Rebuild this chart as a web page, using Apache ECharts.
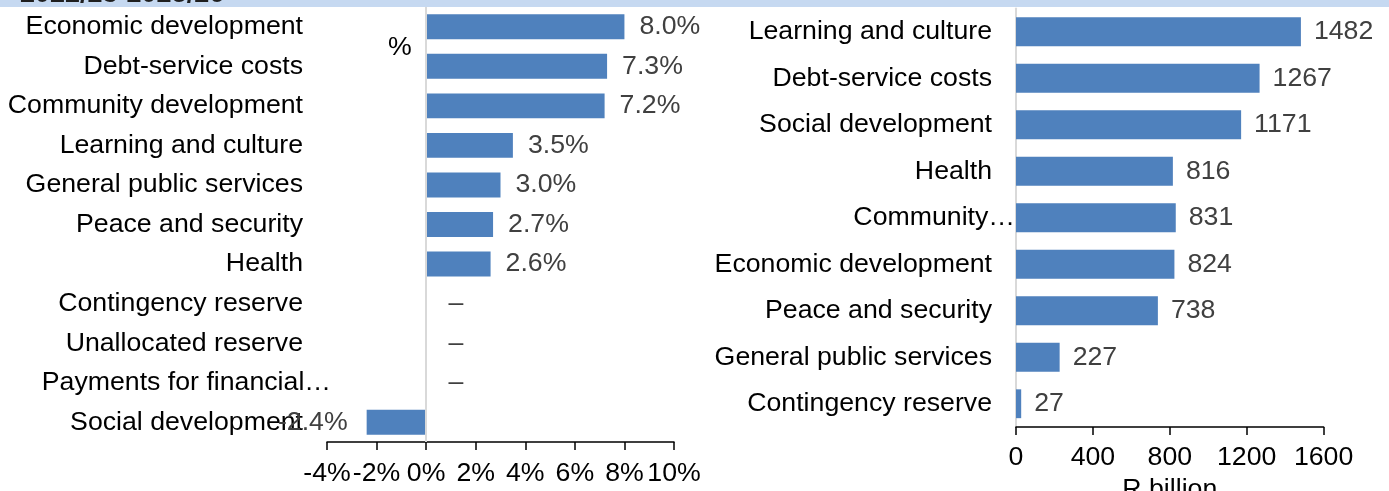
<!DOCTYPE html>
<html>
<head>
<meta charset="utf-8">
<script src="https://cdn.jsdelivr.net/npm/echarts@6/dist/echarts.min.js"></script>
<style>
  html, body { margin: 0; padding: 0; background: #fff; }
  #chart { width: 1389px; height: 491px; }
</style>
</head>
<body>
<div id="chart"></div>
<script>
// Average annual growth by function, 2022/23-2025/26 (%)
const growthCategories = [
  'Economic development', 'Debt-service costs', 'Community development',
  'Learning and culture', 'General public services', 'Peace and security',
  'Health', 'Contingency reserve', 'Unallocated reserve',
  'Payments for financial…', 'Social development'
];
const growthValues = [8.0, 7.3, 7.2, 3.5, 3.0, 2.7, 2.6, 0, 0, 0, -2.4];
const growthTicks = [-4, -2, 0, 2, 4, 6, 8, 10];

// Spending by function (R billion)
const spendCategories = [
  'Learning and culture', 'Debt-service costs', 'Social development',
  'Health', 'Community…', 'Economic development', 'Peace and security',
  'General public services', 'Contingency reserve'
];
const spendValues = [1482, 1267, 1171, 816, 831, 824, 738, 227, 27];
const spendTicks = [0, 400, 800, 1200, 1600];

const FONT = "'Liberation Sans', Arial, sans-serif";
const FS = 26.7;
const BAR = '#4f81bd';

// Labels that Excel truncated run a little past the label column
function catLabel(shift) {
  return {
    fontFamily: FONT, fontSize: FS, color: '#000', margin: 24,
    formatter: v => v.endsWith('…') ? '{o|' + v + '}' : v,
    rich: { o: { fontFamily: FONT, fontSize: FS, color: '#000', padding: [0, -shift, 0, 0] } }
  };
}

// Negative growth is labelled on the outer (left) end of its bar
const growthData = growthValues.map(v => ({
  value: v,
  label: v < 0 ? { position: 'left', distance: 19 } : { position: 'right' }
}));

const chart = echarts.init(document.getElementById('chart'), null, { renderer: 'canvas' });
chart.setOption({
  animation: false,
  backgroundColor: '#fff',
  graphic: [
    { type: 'rect', left: 0, top: 0, shape: { width: 1389, height: 7 }, style: { fill: '#c6d9f1' }, z: 10 },
    { type: 'text', x: 20, y: 8, z: 11,
      style: { text: '2022/23-2025/26', fontFamily: FONT, fontSize: 27, fontWeight: 'bold',
               fill: '#1f1f1f', verticalAlign: 'bottom', align: 'left' } },
    { type: 'text', x: 388, y: 48,
      style: { text: '%', fontFamily: FONT, fontSize: FS, fill: '#000', verticalAlign: 'middle' } }
  ],
  grid: [
    { left: 327, top: 7, width: 347, height: 435, outerBoundsMode: 'none' },
    { left: 1016, top: 8.5, width: 307.6, height: 418.5, outerBoundsMode: 'none' }
  ],
  xAxis: [
    {
      gridIndex: 0, type: 'value',
      min: growthTicks[0], max: growthTicks[growthTicks.length - 1], interval: 2,
      splitLine: { show: false },
      axisLine: { show: true, onZero: false, lineStyle: { color: '#000', width: 1.5 } },
      axisTick: { show: true, length: 8, lineStyle: { color: '#000', width: 1.5 } },
      axisLabel: { fontFamily: FONT, fontSize: FS, color: '#000', margin: 18, formatter: '{value}%' }
    },
    {
      gridIndex: 1, type: 'value',
      min: spendTicks[0], max: spendTicks[spendTicks.length - 1], interval: 400,
      splitLine: { show: false },
      axisLine: { show: true, lineStyle: { color: '#000', width: 1.5 } },
      axisTick: { show: true, length: 8, lineStyle: { color: '#000', width: 1.5 } },
      axisLabel: { fontFamily: FONT, fontSize: FS, color: '#000', margin: 17, formatter: v => String(v) },
      name: 'R billion', nameLocation: 'middle', nameGap: 42,
      nameTextStyle: { fontFamily: FONT, fontSize: FS, color: '#000' }
    }
  ],
  yAxis: [
    {
      gridIndex: 0, type: 'category', inverse: true, data: growthCategories,
      axisLine: { show: false }, axisTick: { show: false },
      axisLabel: catLabel(28)
    },
    {
      gridIndex: 1, type: 'category', inverse: true, data: spendCategories,
      axisLine: { show: true, lineStyle: { color: '#d9d9d9', width: 2 } },
      axisTick: { show: false },
      axisLabel: catLabel(23)
    }
  ],
  series: [
    {
      type: 'bar', xAxisIndex: 0, yAxisIndex: 0, data: growthData,
      barCategoryGap: '37%',
      itemStyle: { color: BAR },
      label: {
        show: true, distance: 15, fontFamily: FONT, fontSize: FS, color: '#404040',
        formatter: p => p.value === 0 ? ' –' : p.value.toFixed(1) + '%'
      },
      markLine: {
        silent: true, symbol: 'none', label: { show: false },
        lineStyle: { color: '#d9d9d9', type: 'solid', width: 2 },
        data: [{ xAxis: 0 }]
      },
      z: 3
    },
    {
      type: 'bar', xAxisIndex: 1, yAxisIndex: 1, data: spendValues,
      barCategoryGap: '38%',
      itemStyle: { color: BAR },
      label: {
        show: true, position: 'right', distance: 13,
        fontFamily: FONT, fontSize: FS, color: '#404040'
      },
      z: 3
    }
  ]
});
</script>
</body>
</html>
